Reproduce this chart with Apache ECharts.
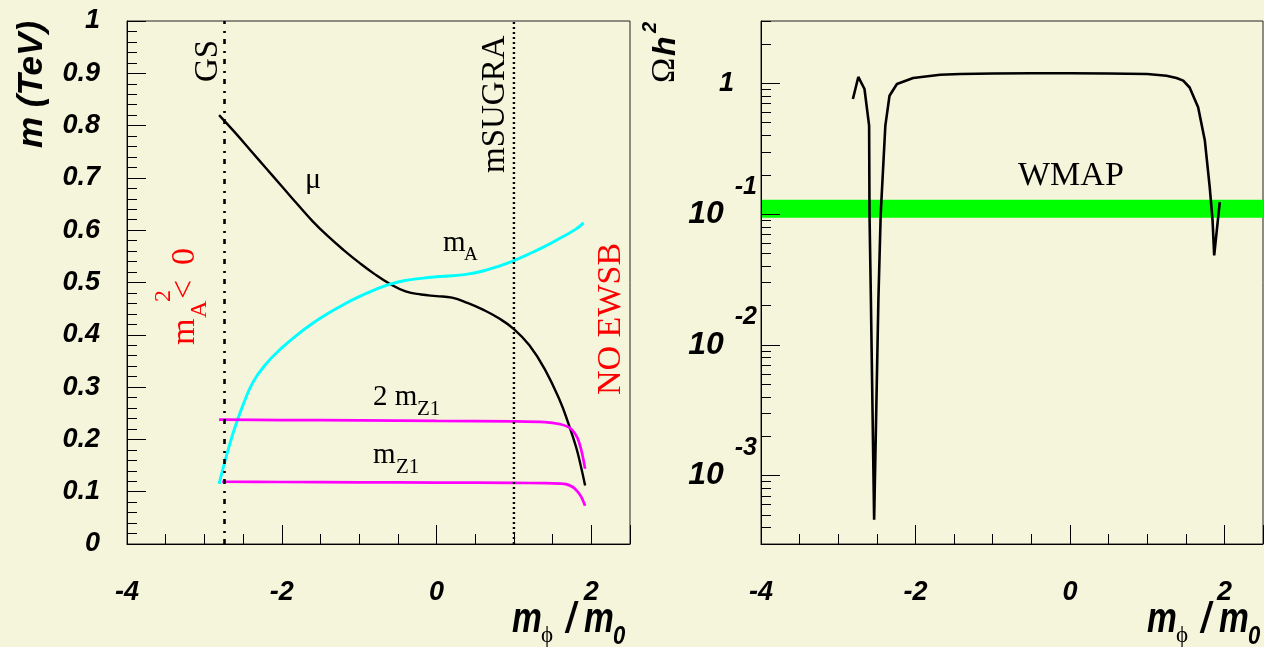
<!DOCTYPE html>
<html>
<head>
<meta charset="utf-8">
<script src="https://cdn.jsdelivr.net/npm/echarts@6/dist/echarts.min.js"></script>
<style>
  html, body { margin: 0; padding: 0; background: #f5f5dc; }
  #chart { width: 1264px; height: 647px; }
</style>
</head>
<body>
<div id="chart"></div>
<script>
// ---- left panel: mass parameters (TeV) versus m_phi / m_0 ----
const muX  = [-2.81, -2.6, -2.4, -2.2, -2.0, -1.8, -1.6, -1.4, -1.2, -1.0, -0.8, -0.6, -0.4, -0.2, 0, 0.2, 0.4, 0.6, 0.8, 1.0, 1.2, 1.4, 1.6, 1.7, 1.8, 1.86, 1.92];
const muY  = [0.820, 0.786, 0.752, 0.718, 0.684, 0.650, 0.617, 0.588, 0.562, 0.538, 0.516, 0.497, 0.483, 0.477, 0.474, 0.471, 0.461, 0.448, 0.432, 0.411, 0.380, 0.334, 0.272, 0.232, 0.187, 0.152, 0.112];

const mAX  = [-2.81, -2.74, -2.67, -2.6, -2.5, -2.37, -2.2, -2.0, -1.8, -1.6, -1.4, -1.2, -1.0, -0.8, -0.6, -0.4, -0.2, 0, 0.2, 0.4, 0.6, 0.8, 1.0, 1.2, 1.4, 1.6, 1.8, 1.9];
const mAY  = [0.115, 0.155, 0.192, 0.225, 0.266, 0.310, 0.345, 0.375, 0.400, 0.422, 0.441, 0.458, 0.473, 0.486, 0.497, 0.504, 0.508, 0.511, 0.513, 0.516, 0.522, 0.531, 0.542, 0.555, 0.569, 0.585, 0.602, 0.614];

const z2X  = [-2.81, -2.0, -1.0, 0, 1.0, 1.4, 1.6, 1.7, 1.76, 1.82, 1.87, 1.92];
const z2Y  = [0.238, 0.237, 0.2365, 0.2355, 0.2345, 0.233, 0.229, 0.224, 0.217, 0.203, 0.180, 0.144];

const z1X  = [-2.77, -2.0, -1.0, 0, 1.0, 1.4, 1.6, 1.67, 1.76, 1.82, 1.87, 1.92];
const z1Y  = [0.119, 0.1185, 0.118, 0.1175, 0.1168, 0.1163, 0.1155, 0.1145, 0.109, 0.1005, 0.090, 0.073];

const gsX = -2.74;      // GS boundary
const sugraX = 1.0;     // mSUGRA point

// ---- right panel: relic density Omega h^2 versus m_phi / m_0 ----
const omX = [-2.81, -2.74, -2.66, -2.60, -2.595, -2.577, -2.535, -2.48, -2.45, -2.39, -2.336, -2.24, -2.03, -1.68, -1.42, -1.0, -0.5, 0, 0.5, 1.0, 1.25, 1.38, 1.467, 1.55, 1.66, 1.747, 1.81, 1.847, 1.868, 1.94];
const omY = [0.76, 1.12, 0.906, 0.475, 0.1, 0.022, 0.00046, 0.022, 0.1, 0.475, 0.805, 0.99, 1.10, 1.165, 1.18, 1.19, 1.195, 1.195, 1.19, 1.18, 1.145, 1.10, 1.05, 0.93, 0.656, 0.365, 0.161, 0.0895, 0.0484, 0.1235];
const wmapBand = [0.094, 0.129];

// axis ticks
const xTickStep = 2;
const logMajorTicks = [0.001, 0.01, 0.1, 1];
const logMinorTicks = [0.0004, 0.0005, 0.0006, 0.0007, 0.0008, 0.0009,
                       0.002, 0.003, 0.004, 0.005, 0.006, 0.007, 0.008, 0.009,
                       0.02, 0.03, 0.04, 0.05, 0.06, 0.07, 0.08, 0.09,
                       0.2, 0.3, 0.4, 0.5, 0.6, 0.7, 0.8, 0.9, 2, 3];

const SANS = "'Liberation Sans', Arial, Helvetica, sans-serif";
const SERIF = "'Liberation Serif', 'Times New Roman', serif";
const BG = '#f5f5dc';

const zip = (xs, ys) => xs.map((x, i) => [x, ys[i]]);

const chart = echarts.init(document.getElementById('chart'), null, { renderer: 'canvas' });

const tickLine = { color: '#000', width: 1 };
const boldItalic = { color: '#000', fontFamily: SANS, fontStyle: 'italic', fontWeight: 'bold' };

function xAxisFor(gridIndex) {
  return {
    type: 'value', gridIndex, min: -4, max: 2.5, interval: xTickStep, z: 5,
    axisLine: { show: true, onZero: false, lineStyle: tickLine },
    axisTick: { show: true, inside: true, length: 19, lineStyle: tickLine },
    minorTick: { show: true, splitNumber: 4, length: 10, lineStyle: tickLine },
    splitLine: { show: false }, minorSplitLine: { show: false },
    axisLabel: Object.assign({ margin: 35, fontSize: 27, showMaxLabel: false }, boldItalic)
  };
}

const option = {
  backgroundColor: BG,
  animation: false,
  grid: [
    { left: 127, top: 21, width: 503, height: 523, show: true, borderColor: '#222', borderWidth: 1, backgroundColor: 'transparent' },
    { left: 761, top: 21, width: 502, height: 523, show: true, borderColor: '#222', borderWidth: 1, backgroundColor: 'transparent' }
  ],
  xAxis: [xAxisFor(0), xAxisFor(1)],
  yAxis: [
    {
      type: 'value', gridIndex: 0, min: 0, max: 1, interval: 0.1, z: 5, position: 'left',
      axisLine: { show: true, onZero: false, lineStyle: tickLine },
      axisTick: { show: true, inside: true, length: 19, lineStyle: tickLine },
      minorTick: { show: true, splitNumber: 5, length: 10, lineStyle: tickLine },
      splitLine: { show: false }, minorSplitLine: { show: false },
      axisLabel: Object.assign({ margin: 27, fontSize: 27 }, boldItalic)
    },
    {
      type: 'log', logBase: 10, gridIndex: 1, min: 0.0003, max: 3, position: 'left', z: 5,
      axisLine: { show: true, onZero: false, lineStyle: tickLine },
      axisTick: { show: true, inside: true, length: 19, lineStyle: tickLine, customValues: logMajorTicks },
      splitLine: { show: false },
      axisLabel: Object.assign({
        margin: 4, fontSize: 27, customValues: logMajorTicks,
        formatter: v => {
          const e = Math.round(Math.log10(v));
          return e === 0 ? '{one|1}' : '{b|10}{e|' + e + '}';
        },
        rich: {
          one: Object.assign({ fontSize: 27, padding: [0, 23, 0, 0] }, boldItalic),
          b: Object.assign({ fontSize: 32, lineHeight: 80, verticalAlign: 'middle' }, boldItalic),
          e: Object.assign({ fontSize: 25, lineHeight: 30, verticalAlign: 'top', padding: [0, 0, 0, 11] }, boldItalic)
        }
      }, boldItalic)
    },
    {
      type: 'log', logBase: 10, gridIndex: 1, min: 0.0003, max: 3, position: 'left', z: 5,
      axisLine: { show: false, onZero: false },
      axisTick: { show: true, inside: true, length: 10, lineStyle: tickLine, customValues: logMinorTicks },
      axisLabel: { show: false },
      splitLine: { show: false }
    }
  ],
  series: [
    { name: 'mu', type: 'line', xAxisIndex: 0, yAxisIndex: 0, data: zip(muX, muY), symbol: 'none', smooth: 0.45,
      lineStyle: { color: '#000', width: 2.4 } },
    { name: 'mA', type: 'line', xAxisIndex: 0, yAxisIndex: 0, data: zip(mAX, mAY), symbol: 'none', smooth: 0.45,
      lineStyle: { color: '#00ffff', width: 2.9 } },
    { name: '2mZ1', type: 'line', xAxisIndex: 0, yAxisIndex: 0, data: zip(z2X, z2Y), symbol: 'none', smooth: 0.3,
      lineStyle: { color: '#ff00ff', width: 2.7 } },
    { name: 'mZ1', type: 'line', xAxisIndex: 0, yAxisIndex: 0, data: zip(z1X, z1Y), symbol: 'none', smooth: 0.3,
      lineStyle: { color: '#ff00ff', width: 2.7 } },
    { name: 'GS', type: 'line', xAxisIndex: 0, yAxisIndex: 0, data: [[gsX, 0], [gsX, 1]], symbol: 'none',
      lineStyle: { color: '#000', width: 2.6, type: [5, 6, 2, 7] } },
    { name: 'mSUGRA', type: 'line', xAxisIndex: 0, yAxisIndex: 0, data: [[sugraX, 0], [sugraX, 1]], symbol: 'none',
      lineStyle: { color: '#000', width: 2.4, type: [2, 3] } },
    { name: 'omega', type: 'line', xAxisIndex: 1, yAxisIndex: 1, data: zip(omX, omY), symbol: 'none',
      lineStyle: { color: '#000', width: 2.6 },
      markArea: {
        silent: true,
        itemStyle: { color: '#00ff00', opacity: 1 },
        data: [[{ xAxis: -4, yAxis: wmapBand[0] }, { xAxis: 2.5, yAxis: wmapBand[1] }]]
      } }
  ]
};

// text built from pieces (sub/superscripts); (x, y) is the start of the baseline
function textGroup(x, y, rotation, color, pieces) {
  return {
    type: 'group', x, y, rotation, z: 100,
    children: pieces.map(p => ({
      type: 'text',
      x: p.x || 0,
      y: (p.dy || 0) - 0.345 * p.size,
      scaleX: p.sx || 1,
      style: {
        text: p.t,
        font: (p.style || '') + ' ' + p.size + 'px ' + (p.fam || SERIF),
        fill: color, align: 'left', verticalAlign: 'middle'
      }
    }))
  };
}
const UP = Math.PI / 2;
const BI = 'italic bold';

function xTitle(x0) {
  return textGroup(x0, 635, 0, '#000', [
    { t: 'm', size: 43, style: BI, fam: SANS, sx: 0.78 },
    { t: '\u03D5', x: 29, dy: 9, size: 23 },
    { t: '/', x: 54, size: 43, style: BI, fam: SANS, sx: 0.8 },
    { t: 'm', x: 72, size: 43, style: BI, fam: SANS, sx: 0.78 },
    { t: '0', x: 101, dy: 11, size: 26, style: BI, fam: SANS, sx: 0.85 }
  ]);
}

option.graphic = [
  // axis titles
  textGroup(44, 148, UP, '#000', [{ t: 'm (TeV)', size: 35, style: BI, fam: SANS }]),
  xTitle(512),
  textGroup(677, 83, UP, '#000', [
    { t: '\u03A9', size: 34 },
    { t: 'h', x: 27, size: 32, style: BI, fam: SANS },
    { t: '2', x: 50, dy: -20, size: 20, style: BI, fam: SANS }
  ]),
  xTitle(1147),
  // left panel annotations
  textGroup(220, 82, UP, '#000', [{ t: 'GS', size: 33 }]),
  textGroup(507, 173, UP, '#000', [{ t: 'mSUGRA', size: 33 }]),
  textGroup(623, 395, UP, '#ff0000', [{ t: 'NO EWSB', size: 34 }]),
  textGroup(197, 345, UP, '#ff0000', [
    { t: 'm', size: 34 },
    { t: 'A', x: 27, dy: 11, size: 24 },
    { t: '2', x: 43, dy: -25, size: 24 },
    { t: '<', x: 46, size: 34 },
    { t: '0', x: 80, size: 34 }
  ]),
  textGroup(305, 190, 0, '#000', [{ t: '\u03BC', size: 30 }]),
  textGroup(443, 253, 0, '#000', [
    { t: 'm', size: 29 },
    { t: 'A', x: 21, dy: 9, size: 19 }
  ]),
  textGroup(373, 407, 0, '#000', [
    { t: '2 m', size: 29 },
    { t: 'Z1', x: 44, dy: 10, size: 21 }
  ]),
  textGroup(373, 465, 0, '#000', [
    { t: 'm', size: 29 },
    { t: 'Z1', x: 23, dy: 10, size: 21 }
  ]),
  // right panel annotation
  textGroup(1018, 188, 0, '#000', [{ t: 'WMAP', size: 34 }])
];

chart.setOption(option);
</script>
</body>
</html>
